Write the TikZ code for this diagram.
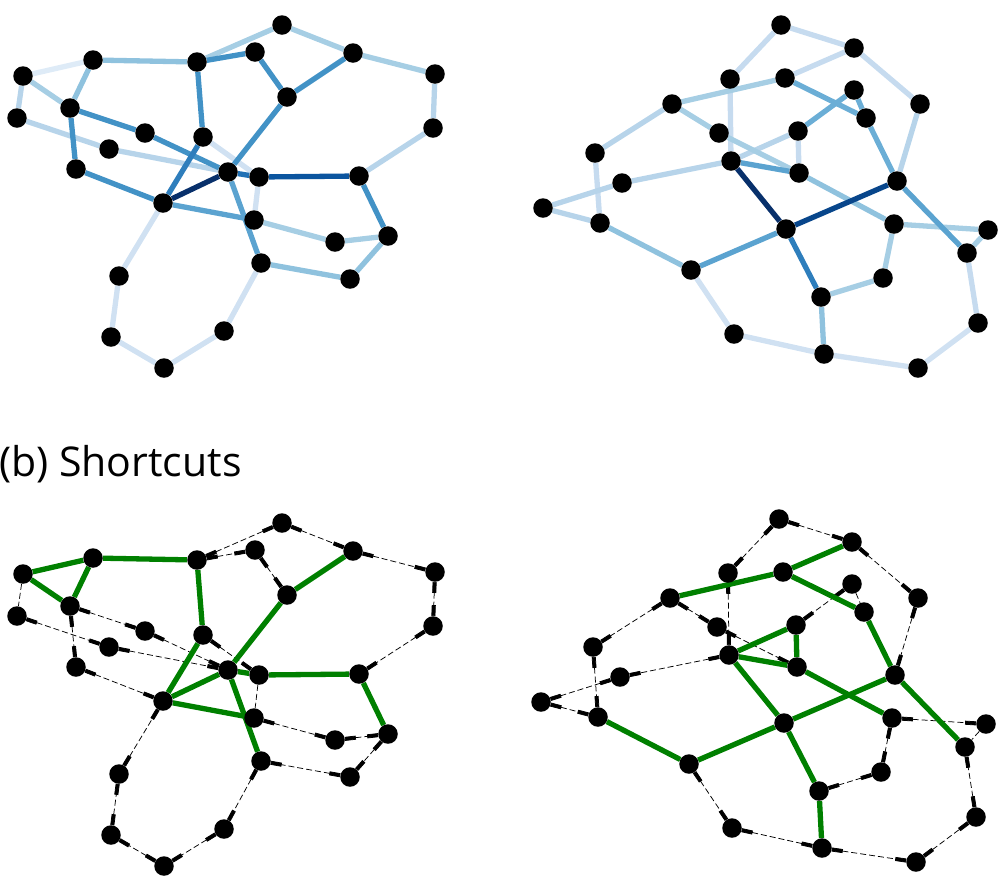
\documentclass[tikz,border=0pt]{standalone}
\usepackage{fontspec}
\setmainfont{Open Sans}
\usetikzlibrary{arrows.meta,backgrounds}
\definecolor{bA}{HTML}{DEEBF7}
\definecolor{bB}{HTML}{D0E1F2}
\definecolor{bC}{HTML}{C6DBEF}
\definecolor{bD}{HTML}{B7D4EA}
\definecolor{bE}{HTML}{A6CEE4}
\definecolor{bF}{HTML}{8FC2DE}
\definecolor{bG}{HTML}{6BAED6}
\definecolor{bH}{HTML}{5BA3D0}
\definecolor{bI}{HTML}{4292C6}
\definecolor{bJ}{HTML}{2E7EBC}
\definecolor{bK}{HTML}{2171B5}
\definecolor{bL}{HTML}{0B559F}
\definecolor{bM}{HTML}{08468B}
\definecolor{bN}{HTML}{08306B}
\definecolor{sgreen}{HTML}{008000}
\begin{document}
\begin{tikzpicture}[x=1pt,y=-1pt,
  dot/.style={circle,fill=black,inner sep=0pt,minimum size=19.5pt},
  be/.style={line width=5.3pt},
  ge/.style={line width=5.3pt,draw=sgreen},
  ds/.style={line width=0.75pt,dash pattern=on 6pt off 3pt},
  de/.style={ds,{Rectangle[length=11pt,width=4pt]}-{Rectangle[length=11pt,width=4pt]}},
]
\useasboundingbox (0,0) rectangle (1000,887);
\foreach \n/\x/\y in {1/282/25, 2/255/52, 3/197/62, 4/93/60, 5/23/76, 6/353/53, 7/435/74,
  8/287/97, 9/70/108, 10/17/118, 11/145/133, 12/203/137, 13/109/149, 14/433/128,
  15/76/169, 16/228/172, 17/259/177, 18/359/176, 19/163/203, 20/254/220, 21/335/242,
  22/388/236, 23/261/263, 24/350/279, 25/119/276, 26/111/337, 27/164/368, 28/224/331}{
  \node[dot] (a\n) at (\x,\y) {};
  \node[dot] (c\n) at (\x,\y+498) {};
}
\foreach \n/\x/\y in {1/781/25, 2/854/48, 3/730/79, 4/785/78, 5/854/90, 6/672/104, 7/920/104,
  8/866/118, 9/719/133, 10/798/131, 11/595/153, 12/731/161, 13/799/173, 14/897/181,
  15/622/183, 16/543/208, 17/600/223, 18/786/229, 19/894/224, 20/988/230, 21/967/253,
  22/691/270, 23/883/278, 24/821/297, 25/978/323, 26/734/334, 27/824/354, 28/918/368}{
  \node[dot] (b\n) at (\x,\y) {};
  \node[dot] (d\n) at (\x-2,\y+494) {};
}
\node[anchor=base west,inner sep=0pt,font=\fontsize{41}{41}\selectfont] (lab) at (-1,476) {(b) Shortcuts};

\begin{scope}[on background layer]
% ---------- top left ----------
\draw[be,bA] (a5) -- (a4);
\foreach \u/\v in {12/17,17/20,23/28,28/27,27/26,26/25,25/19} \draw[be,bB] (a\u) -- (a\v);
\foreach \u/\v in {5/10,10/13,13/16,7/14,14/18} \draw[be,bD] (a\u) -- (a\v);
\foreach \u/\v in {5/9,3/1,1/6,6/7,20/21,21/22} \draw[be,bE] (a\u) -- (a\v);
\foreach \u/\v in {4/3,4/9,22/24,23/24} \draw[be,bF] (a\u) -- (a\v);
\foreach \u/\v in {16/23,19/20} \draw[be,bH] (a\u) -- (a\v);
\foreach \u/\v in {9/11,11/16,9/15,15/19,3/2,2/8,6/8,8/16,3/12,18/22} \draw[be,bI] (a\u) -- (a\v);
\draw[be,bJ] (a12) -- (a19);
\draw[be,bK] (a16) -- (a17);
\draw[be,bL] (a17) -- (a18);
\draw[be,bN] (a16) -- (a19);
% ---------- top right ----------
\foreach \u/\v in {22/26,26/27,27/28,28/25} \draw[be,bB] (b\u) -- (b\v);
\foreach \u/\v in {1/2,1/3,2/4,2/7,3/12,10/13,11/17,25/21} \draw[be,bC] (b\u) -- (b\v);
\foreach \u/\v in {6/11,10/12,12/15,15/16,16/17,7/14} \draw[be,bD] (b\u) -- (b\v);
\foreach \u/\v in {6/4,6/9,9/13,19/20,20/21,19/23,23/24} \draw[be,bE] (b\u) -- (b\v);
\foreach \u/\v in {17/22,24/27,13/19} \draw[be,bF] (b\u) -- (b\v);
\foreach \u/\v in {4/8,5/10,5/8,8/14} \draw[be,bG] (b\u) -- (b\v);
\foreach \u/\v in {12/13,14/21,18/22} \draw[be,bH] (b\u) -- (b\v);
\draw[be,bJ] (b18) -- (b24);
\draw[be,bM] (b14) -- (b18);
\draw[be,bN] (b12) -- (b18);
% ---------- bottom left ----------
\foreach \u/\v in {10/13,13/16,9/11,11/16,9/15,15/19,3/2,3/1,1/6,6/7,7/14,14/18,2/8,
  12/17,20/21,21/22,22/24,24/23,23/28,28/27,27/26,26/25,25/19} \draw[de] (c\u) -- (c\v);
\foreach \u/\v in {5/10,17/20} \draw[ds] (c\u) -- (c\v);
\foreach \u/\v in {5/4,4/9,5/9,4/3,3/12,12/19,19/16,19/20,16/17,17/18,18/22,16/23,6/8,8/16}
  \draw[ge] (c\u) -- (c\v);
% ---------- bottom right ----------
\foreach \u/\v in {1/2,1/3,3/12,2/7,7/14,5/10,6/11,6/9,9/13,11/17,12/15,15/16,16/17,
  19/20,19/23,23/24,22/26,26/27,27/28,28/25,25/21} \draw[de] (d\u) -- (d\v);
\foreach \u/\v in {5/8,20/21} \draw[ds] (d\u) -- (d\v);
\foreach \u/\v in {6/4,4/2,4/8,8/14,14/21,14/18,18/22,22/17,18/12,12/10,10/13,12/13,13/19,18/24,24/27}
  \draw[ge] (d\u) -- (d\v);
\end{scope}
\end{tikzpicture}
\end{document}
